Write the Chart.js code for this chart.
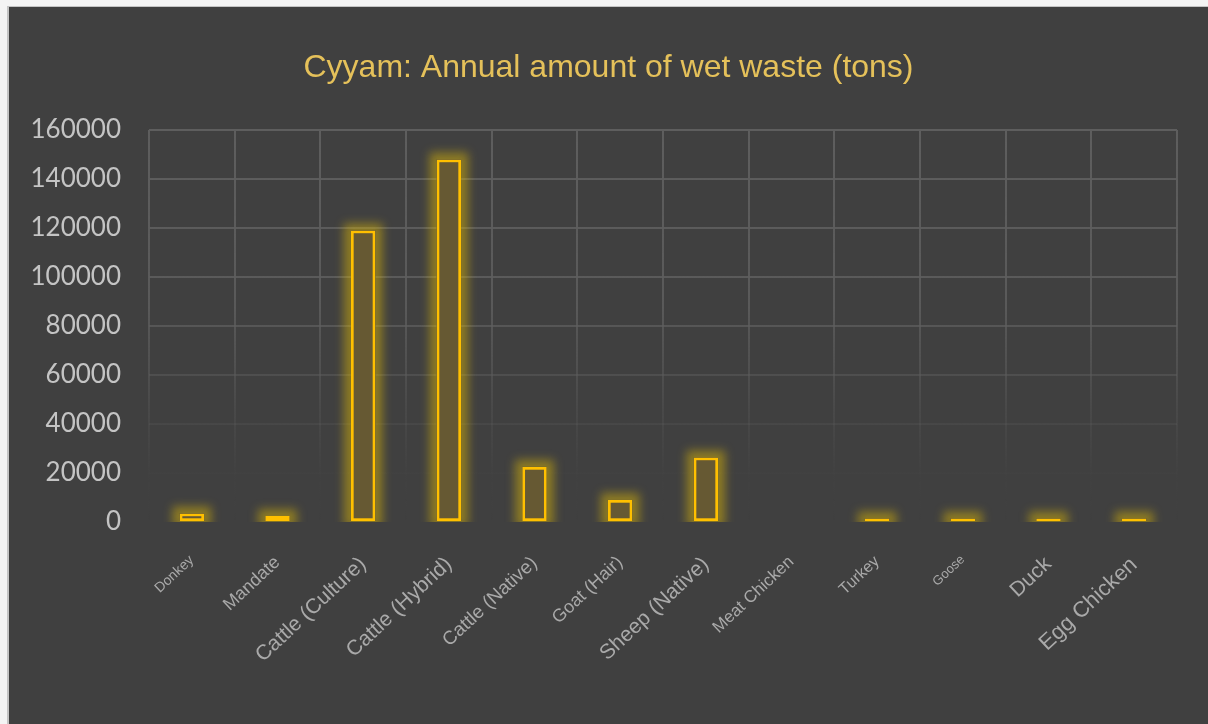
<!DOCTYPE html>
<html><head><meta charset="utf-8">
<script src="https://cdn.jsdelivr.net/npm/chart.js@4"></script>
<style>
html,body{margin:0;padding:0;background:#f4f4f4;width:1208px;height:724px;overflow:hidden}
#frame{position:absolute;left:7px;top:6px;width:1199px;height:717px;border-top:1px solid #c4c4c4;border-left:2px solid #c4c4c4;background:#404040}
canvas{display:block}
</style></head><body>
<div id="frame"><canvas id="c" width="1199" height="717"></canvas></div>
<script>
const titleText = 'Cyyam: Annual amount of wet waste (tons)';
const categories = ['Donkey','Mandate','Cattle (Culture)','Cattle (Hybrid)','Cattle (Native)','Goat (Hair)','Sheep (Native)','Meat Chicken','Turkey','Goose','Duck','Egg Chicken'];
const wetWaste = [3500, 2400, 119000, 148000, 22500, 9000, 26300, null, 1400, 1400, 1400, 1400];
const yTicks = [0, 20000, 40000, 60000, 80000, 100000, 120000, 140000, 160000];

// styling (kept apart from data)
const labelSizes = [14, 18, 21, 21, 19, 18, 21, 17, 16, 13, 21, 22];
const SANS = '"Liberation Sans", Arial, sans-serif';
const BG = '#404040';

function gridColor(ctx){
  const chart = ctx.chart, a = chart.chartArea;
  if(!a) return 'rgba(92,92,92,1)';
  const g = chart.ctx.createLinearGradient(0, a.top, 0, a.bottom);
  g.addColorStop(0, 'rgba(94,94,94,1)');
  g.addColorStop(0.45, 'rgba(94,94,94,0.85)');
  g.addColorStop(0.72, 'rgba(94,94,94,0.3)');
  g.addColorStop(0.88, 'rgba(94,94,94,0.04)');
  g.addColorStop(1, 'rgba(94,94,94,0)');
  return g;
}

const glowPlugin = {
  id: 'glow',
  beforeDatasetsDraw(chart){
    const meta = chart.getDatasetMeta(0);
    const vals = chart.data.datasets[0].data;
    const ctx = chart.ctx, a = chart.chartArea;
    const rects = [];
    meta.data.forEach((el, i) => {
      if (vals[i] == null) return;
      const p = el.getProps(['x','y','base','width'], true);
      if (p.y == null || isNaN(p.y)) return;
      rects.push(p);
    });
    ctx.save();
    ctx.beginPath();
    ctx.rect(a.left, a.top - 30, a.right - a.left, a.bottom - a.top + 30);
    ctx.clip();
    ctx.filter = 'blur(5px)';
    ctx.fillStyle = 'rgba(235,195,0,0.45)';
    const pad = 7;
    rects.forEach(p => ctx.fillRect(p.x - p.width/2 - pad, p.y - pad, p.width + 2*pad, p.base - p.y + pad + 6));
    ctx.filter = 'none';
    ctx.fillStyle = BG;
    rects.forEach(p => ctx.fillRect(p.x - p.width/2, p.y, p.width, p.base - p.y));
    ctx.restore();
  }
};

new Chart(document.getElementById('c'), {
  type: 'bar',
  data: {
    labels: categories,
    datasets: [{
      data: wetWaste,
      backgroundColor: 'rgba(255,192,0,0.2)',
      borderColor: '#FFC000',
      borderWidth: 2.8,
      borderSkipped: false,
      barPercentage: 0.286,
      categoryPercentage: 1
    }]
  },
  options: {
    responsive: false,
    animation: false,
    layout: {padding: 0},
    plugins: {
      legend: {display: false},
      tooltip: {enabled: false},
      title: {
        display: true, text: titleText, color: '#e5c15a',
        font: {family: SANS, size: 32, weight: 'normal', lineHeight: 1.2},
        padding: {top: 42, bottom: 42.6}
      }
    },
    scales: {
      x: {
        grid: {color: gridColor, lineWidth: 2, drawTicks: false, offset: true},
        border: {display: false},
        ticks: {
          color: '#a9a9a9', minRotation: 43, maxRotation: 43, autoSkip: false, padding: 30,
          font: (c) => ({family: SANS, size: labelSizes[c.index] || 14})
        },
        afterFit(s){ s.height = 202; }
      },
      y: {
        min: 0, max: 160000,
        grid: {color: gridColor, lineWidth: 2, drawTicks: false},
        border: {display: false},
        ticks: {color: '#c4c4c4', padding: 28, font: {family: 'Lato', size: 26}, callback: v => String(v)},
        afterBuildTicks(s){ s.ticks = yTicks.map(v => ({value: v})); },
        afterFit(s){ s.width = 140; }
      },
      spacer: {
        position: 'right', display: true,
        grid: {display: false, drawTicks: false}, border: {display: false},
        ticks: {display: false},
        afterFit(s){ s.width = 31; }
      }
    }
  },
  plugins: [glowPlugin]
});
</script>
</body></html>
